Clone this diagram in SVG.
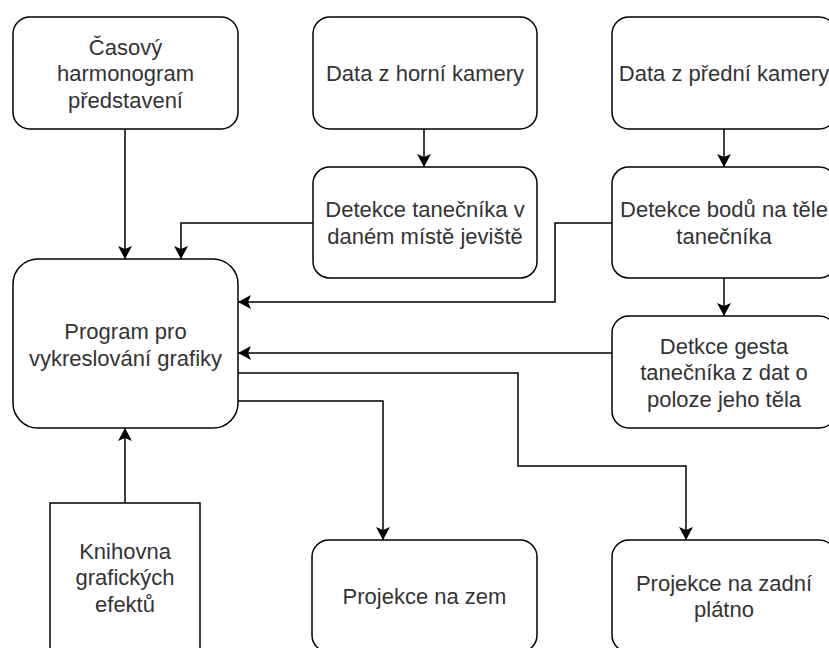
<svg xmlns="http://www.w3.org/2000/svg" width="829" height="648" viewBox="0 0 829 648">
<style>
.box{fill:#fff;stroke:#000;stroke-width:1.5}
.t{font-family:"Liberation Sans",Arial,Helvetica,sans-serif;font-size:22px;fill:#333;text-anchor:middle}
.c{fill:none;stroke:#000;stroke-width:1.5;marker-end:url(#arr)}
</style>
<defs>
<marker id="arr" markerUnits="userSpaceOnUse" markerWidth="14" markerHeight="14" refX="13" refY="7" orient="auto">
<path d="M0,0 L13,7 L0,14 L3,7 Z" fill="#000"/>
</marker>
</defs>
<rect width="829" height="648" fill="#fff"/>
<g id="connectors">
<path class="c" d="M125,129 V259"/>
<path class="c" d="M313,223 H181 V259"/>
<path class="c" d="M424,129 V167"/>
<path class="c" d="M724,129 V167"/>
<path class="c" d="M612,223 H555 V302 H238"/>
<path class="c" d="M724,278 V316"/>
<path class="c" d="M612,353 H238"/>
<path class="c" d="M125,503 V428"/>
<path class="c" d="M238,373 H518 V466 H686 V540"/>
<path class="c" d="M238,401 H383 V540"/>
</g>
<g id="n1"><rect class="box" x="13" y="17" width="225" height="112" rx="16.8"/>
<text class="t" x="125.5" y="54.5">Časový</text><text class="t" x="125.5" y="81">harmonogram</text><text class="t" x="125.5" y="107.5">představení</text></g>
<g id="n2"><rect class="box" x="313" y="17" width="224" height="112" rx="16.8"/>
<text class="t" x="425" y="81">Data z horní kamery</text></g>
<g id="n3"><rect class="box" x="612" y="17" width="224" height="112" rx="16.8"/>
<text class="t" x="724" y="81">Data z přední kamery</text></g>
<g id="n4"><rect class="box" x="313" y="167" width="224" height="111" rx="16.6"/>
<text class="t" x="425" y="217">Detekce tanečníka v</text><text class="t" x="425" y="243.5">daném místě jeviště</text></g>
<g id="n5"><rect class="box" x="612" y="167" width="224" height="111" rx="16.6"/>
<text class="t" x="724" y="217">Detekce bodů na těle</text><text class="t" x="724" y="243.5">tanečníka</text></g>
<g id="n6"><rect class="box" x="13" y="259" width="225" height="169" rx="25"/>
<text class="t" x="125.5" y="339">Program pro</text><text class="t" x="125.5" y="365.5">vykreslování grafiky</text></g>
<g id="n7"><rect class="box" x="612" y="316" width="224" height="112" rx="16.8"/>
<text class="t" x="724" y="353.5">Detkce gesta</text><text class="t" x="724" y="380">tanečníka z dat o</text><text class="t" x="724" y="406.5">poloze jeho těla</text></g>
<g id="n8"><rect class="box" x="50" y="503" width="150" height="150"/>
<text class="t" x="125" y="558.5">Knihovna</text><text class="t" x="125" y="585">grafických</text><text class="t" x="125" y="611.5">efektů</text></g>
<g id="n9"><rect class="box" x="312" y="540" width="225" height="112" rx="16.8"/>
<text class="t" x="424.5" y="604">Projekce na zem</text></g>
<g id="n10"><rect class="box" x="612" y="540" width="224" height="112" rx="16.8"/>
<text class="t" x="724" y="590.5">Projekce na zadní</text><text class="t" x="724" y="617">plátno</text></g>
</svg>
